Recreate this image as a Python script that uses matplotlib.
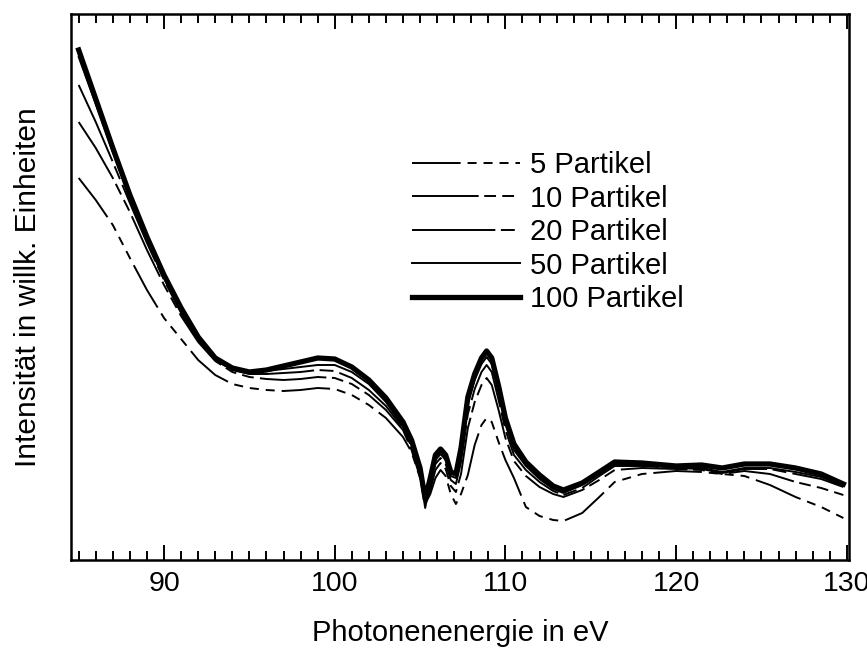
import matplotlib
matplotlib.use("Agg")
import matplotlib.pyplot as plt

plt.rcParams['font.family'] = ['Liberation Sans', 'DejaVu Sans']
plt.rcParams['lines.scale_dashes'] = False

# Photon energy grid (eV)
energy = [85, 86, 87, 88, 89, 90, 91, 92, 93, 94,
          95, 96, 97, 98, 99, 100, 101, 102, 103, 104,
          104.5, 105.0, 105.3, 105.6, 105.9, 106.2, 106.5, 106.8, 107.1, 107.4,
          107.8, 108.2, 108.6, 108.9, 109.2, 109.6, 110.0, 110.5, 111.2, 112.0,
          112.8, 113.4, 114.5, 115.5, 116.4,
          118, 120, 121.5, 122.7, 124, 125.5, 127, 128.5, 129.8]

# Intensity (arbitrary units)
p5 = [382, 360, 335, 302, 270, 242, 221, 200, 185, 176,
      172, 170, 169, 170, 172, 171, 165, 155, 142, 123,
      108, 82, 56, 66, 82, 90, 84, 66, 56, 66,
      85, 115, 135, 142, 138, 118, 100, 82, 53, 44,
      40, 39, 47, 63, 78,
      86, 89, 88, 86, 84, 75, 63, 53, 42]
p10 = [438, 412, 382, 348, 310, 275, 244, 218, 199, 188,
       183, 181, 180, 181, 183, 182, 176, 165, 150, 130,
       110, 83, 57, 70, 90, 97, 91, 74, 68, 86,
       132, 158, 175, 182, 175, 150, 122, 99, 84, 73,
       66, 63, 70, 80, 90,
       92, 91, 90, 86, 89, 86, 78, 72, 65]
p20 = [475, 438, 398, 357, 317, 280, 247, 220, 200, 190,
       186, 186, 187, 188, 190, 189, 182, 170, 154, 132,
       113, 85, 58, 74, 96, 102, 96, 80, 76, 98,
       146, 171, 188, 195, 188, 160, 130, 105, 90, 78,
       69, 65, 72, 84, 94,
       94, 92, 91, 87, 91, 91, 86, 81, 73]
p50 = [503, 456, 408, 362, 320, 282, 249, 221, 201, 191,
       188, 189, 191, 193, 195, 195, 188, 176, 158, 133,
       115, 87, 52, 78, 100, 106, 100, 84, 82, 106,
       156, 180, 196, 203, 196, 168, 136, 110, 94, 81,
       71, 67, 75, 86, 96,
       95, 92, 92, 88, 92, 92, 88, 83, 74]
p100 = [510, 461, 412, 365, 323, 285, 252, 223, 202, 192,
        188, 190, 194, 198, 202, 201, 193, 180, 162, 138,
        120, 92, 61, 82, 105, 111, 105, 88, 86, 112,
        163, 186, 202, 209, 202, 174, 142, 116, 98, 85,
        74, 70, 77, 88, 98,
        97, 94, 95, 92, 96, 96, 92, 86, 76]

labels = ['5 Partikel', '10 Partikel', '20 Partikel', '50 Partikel', '100 Partikel']

fig = plt.figure(figsize=(8.67, 6.53), dpi=100)
ax = fig.add_axes([71/867, 1 - 560/653, (849-71)/867, (560-14)/653])

lw = 1.4
ax.plot(energy, p5, color='black', lw=lw, dashes=[35, 5, 6.5, 5, 6.5, 5, 6.5, 5], label=labels[0])
ax.plot(energy, p10, color='black', lw=lw, dashes=[48, 4, 8.5, 4.5, 8.5, 4.5], label=labels[1])
ax.plot(energy, p20, color='black', lw=lw, dashes=[60, 4, 10, 4.5], label=labels[2])
ax.plot(energy, p50, color='black', lw=lw, label=labels[3])
ax.plot(energy, p100, color='black', lw=3.8, label=labels[4])

ax.set_xlim(84.55, 130.13)
ax.set_ylim(0, 546)
ax.set_yticks([])
ax.set_xticks([90, 100, 110, 120, 130])
ax.set_xticks(range(85, 131), minor=True)
ax.tick_params(axis='x', which='both', direction='in', top=True, bottom=True,
               width=1.4, labelsize=20.5, pad=8, colors='black')
ax.tick_params(axis='x', which='major', length=11)
ax.tick_params(axis='x', which='minor', length=6.5)
for s in ax.spines.values():
    s.set_linewidth(1.8)

ax.set_xlabel('Photonenenergie in eV', fontsize=21, labelpad=16)
ax.set_ylabel('Intensität in willk. Einheiten', fontsize=21.5, labelpad=21)

leg = ax.legend(loc='upper left', bbox_to_anchor=(0.438, 0.749), frameon=False,
                fontsize=21, handlelength=3.72, handletextpad=0.35,
                labelspacing=0.19, borderpad=0, borderaxespad=0)

fig.savefig('out.png', dpi=100)
